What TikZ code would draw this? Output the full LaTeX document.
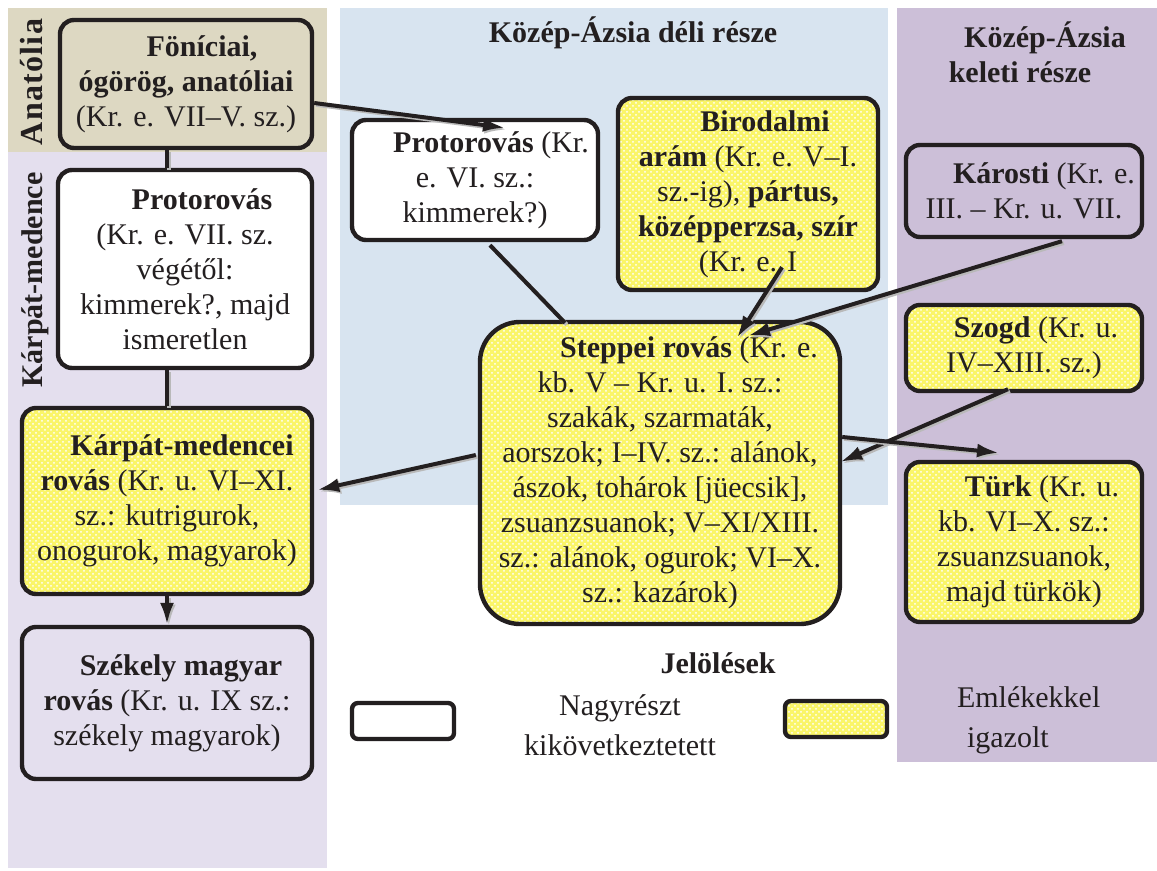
\documentclass[tikz,border=0pt]{standalone}
\usepackage{fontspec}
\setmainfont{Liberation Serif}
\usetikzlibrary{arrows.meta,positioning,calc,patterns}
\definecolor{anatan}{RGB}{221,216,194}
\definecolor{carplav}{RGB}{228,223,238}
\definecolor{southblue}{RGB}{216,228,240}
\definecolor{eastpurple}{RGB}{204,191,216}
\definecolor{runeyellow}{RGB}{250,245,105}
\definecolor{inkgray}{RGB}{35,31,32}

\begin{document}
\begin{tikzpicture}[
    x=0.5pt, y=-0.5pt,
    font=\fontsize{15}{17.5}\selectfont,
    text=inkgray,
    box/.style={
        rectangle,
        rounded corners=7pt,
        draw=inkgray,
        line width=2.2pt,
        align=center,
        inner sep=2pt
    },
    inferred/.style={box, fill=white},
    attested/.style={
        box,
        preaction={fill=runeyellow},
        pattern=crosshatch dots,
        pattern color=white
    },
    region/.style={font=\fontsize{15}{17.5}\selectfont\bfseries, align=center},
    link/.style={
        line width=2pt, draw=inkgray,
        preaction={draw=gray!55, line width=2pt,
                   transform canvas={shift={(0.9pt,-0.9pt)}}}
    },
    arrow/.style={link, -{Latex[length=11pt,width=7pt]}}
]
\useasboundingbox (0,0) rectangle (1157,871);

% Regions
\fill[anatan] (8,8) rectangle (327,152);
\fill[carplav] (8,152) rectangle (327,868);
\fill[southblue] (340,8) rectangle (888,505);
\fill[eastpurple] (897,8) rectangle (1157,762);

\node[region, rotate=90, font=\fontsize{16}{17.5}\selectfont\bfseries\addfontfeature{LetterSpace=4}] (anat) at (32,82) {Anatólia};
\node[region, rotate=90] (carp) at (35,280) {Kárpát-medence};
\node[region] (south) at (633,33) {Közép-Ázsia déli része};
\node[region] (east) at (1020,52) {\hspace*{25pt}Közép-Ázsia\\keleti része};

% Script boxes
\node[box, minimum width=126pt, minimum height=64pt] (fon) at (186,84)
    {\hspace*{16pt}\textbf{Föníciai,}\\\textbf{ógörög, anatóliai}\\(Kr. e. VII–V. sz.)};

\node[inferred, minimum width=127pt, minimum height=99pt] (protoK) at (185,269)
    {\hspace*{17pt}\textbf{Protorovás}\\(Kr. e. VII. sz.\\végétől:\\kimmerek?, majd\\ismeretlen};

\node[inferred, minimum width=123pt, minimum height=60pt] (protoD) at (475,180)
    {\hspace*{16pt}\textbf{Protorovás} (Kr.\\e. VI. sz.:\\kimmerek?)};

\node[attested, minimum width=130pt, minimum height=96pt] (birod) at (748,194)
    {\hspace*{17pt}\textbf{Birodalmi}\\\textbf{arám} (Kr. e. V–I.\\sz.-ig), \textbf{pártus,}\\\textbf{középperzsa, szír}\\(Kr. e. I};

\node[box, minimum width=118pt, minimum height=46pt] (karosti) at (1024,191)
    {\hspace*{20pt}\textbf{Károsti} (Kr. e.\\III. – Kr. u. VII.};

\node[attested, minimum width=118pt, minimum height=43pt] (szogd) at (1024,348)
    {\hspace*{12pt}\textbf{Szogd} (Kr. u.\\IV–XIII. sz.)};

\node[attested, rounded corners=20pt, minimum width=180pt, minimum height=151pt] (steppe) at (660,473)
    {\hspace*{29pt}\textbf{Steppei rovás} (Kr. e.\\kb. V – Kr. u. I. sz.:\\szakák, szarmaták,\\aorszok; I–IV. sz.: alánok,\\ászok, tohárok [jüecsik],\\zsuanzsuanok; V–XI/XIII.\\sz.: alánok, ogurok; VI–X.\\sz.: kazárok)};

\node[attested, minimum width=118pt, minimum height=80pt] (turk) at (1024,542)
    {\hspace*{18pt}\textbf{Türk} (Kr. u.\\kb. VI–X. sz.:\\zsuanzsuanok,\\majd türkök)};

\node[attested, minimum width=145pt, minimum height=93pt] (karpat) at (167,501)
    {\hspace*{15pt}\textbf{Kárpát-medencei}\\\textbf{rovás} (Kr. u. VI–XI.\\sz.: kutrigurok,\\onogurok, magyarok)};

\node[box, minimum width=145pt, minimum height=76pt] (szekely) at (167,703)
    {\hspace*{14pt}\textbf{Székely magyar}\\\textbf{rovás} (Kr. u. IX sz.:\\székely magyarok)};

% Legend
\node[region] (legend) at (718,663) {Jelölések};
\node[inferred, rounded corners=3pt, minimum width=51pt, minimum height=18pt] (legW) at (403,721) {};
\node[align=center, font=\fontsize{15}{20}\selectfont] (legWtxt) at (620,725) {Nagyrészt\\kikövetkeztetett};
\node[attested, rounded corners=3pt, minimum width=51pt, minimum height=18pt] (legY) at (836,719) {};
\node[align=left, anchor=west, font=\fontsize{15}{20}\selectfont] (legYtxt) at (950,720) {Emlékekkel\\\hspace*{5pt}igazolt};

% Connectors
\draw[link] (fon.south -| karpat) -- (protoK.north -| karpat);
\draw[link] (protoK.south -| karpat) -- (karpat.north);
\draw[arrow] (karpat.south) -- (szekely.north);
\draw[arrow] ($(fon.east)+(0,19)$) -- ($(protoD.north)+(30,10)$);
\draw[link] ($(protoD.south)+(15,3)$) -- ($(steppe.north)+(-95,3)$);
\draw[arrow] ($(birod.south)+(34,-25)$) -- ($(steppe.north)+(77,18)$);
\draw[arrow] ($(karosti.south)+(38,2)$) -- ($(steppe.north)+(88,16)$);
\draw[arrow] ($(szogd.south)+(-16,-4)$) -- ($(steppe.east)+(-2,-11)$);
\draw[arrow] ($(steppe.east)+(0,-36)$) -- ($(turk.north)+(-25,-7)$);
\draw[arrow] ($(steppe.west)+(-2,-18)$) -- ($(karpat.east)+(3,-11)$);

\end{tikzpicture}
\end{document}
